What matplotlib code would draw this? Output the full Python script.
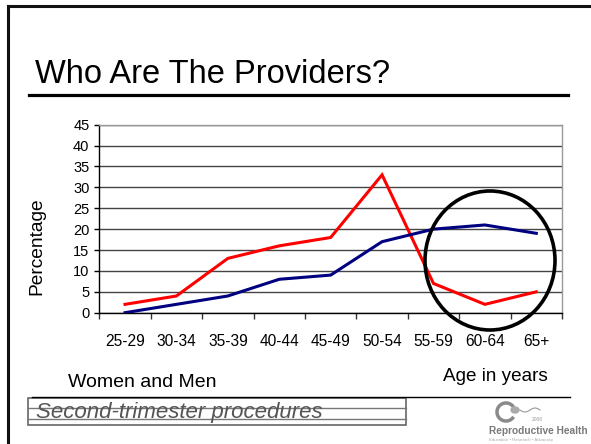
import matplotlib
matplotlib.use("Agg")
import matplotlib.pyplot as plt
from matplotlib.patches import Ellipse, Rectangle, Arc, Circle
from matplotlib.lines import Line2D
import numpy as np

plt.rcParams['font.family'] = ['Liberation Sans', 'DejaVu Sans']

categories = ["25-29", "30-34", "35-39", "40-44", "45-49", "50-54", "55-59", "60-64", "65+"]
women = [2, 4, 13, 16, 18, 33, 7, 2, 5]
men = [0, 2, 4, 8, 9, 17, 20, 21, 19]
yticks = [0, 5, 10, 15, 20, 25, 30, 35, 40, 45]

W, H = 591, 444
fig = plt.figure(figsize=(W / 100, H / 100), dpi=100)


def fx(x):
    return x / W


def fy(y):
    return 1 - y / H


# outer slide frame (left and top)
fig.add_artist(Line2D([fx(8), fx(8)], [fy(6), 0], transform=fig.transFigure, color='#111111', lw=2.2))
fig.add_artist(Line2D([fx(8), 1], [fy(6), fy(6)], transform=fig.transFigure, color='#111111', lw=2.2))

# title
fig.text(fx(35), fy(83), "Who Are The Providers?", fontsize=23.5, va='baseline', ha='left', color='black')
fig.add_artist(Line2D([fx(29), fx(568)], [fy(95), fy(95)], transform=fig.transFigure, color='black', lw=2.3))

# axes
x0, x1 = 99.3, 562
y0, y1 = 312.7, 124.7
ax = fig.add_axes([fx(x0), fy(y0), (x1 - x0) / W, (y0 - y1) / H])
xs = np.arange(len(categories))
ax.plot(xs, women, color='#ff0000', lw=2.2, solid_joinstyle='miter', zorder=3)
ax.plot(xs, men, color='#000080', lw=2.2, solid_joinstyle='miter', zorder=3)
ax.set_xlim(-0.5, len(categories) - 0.5)
ax.set_ylim(0, 45)
ax.set_yticks(yticks)
ax.set_yticklabels([str(v) for v in yticks], fontsize=10.5)
ax.set_xticks(xs)
ax.set_xticklabels(categories, fontsize=11.2)
ax.set_xticks(np.arange(-0.5, len(categories)), minor=True)
ax.tick_params(axis='x', which='major', length=0, pad=15.5)
ax.tick_params(axis='x', which='minor', length=4.5, width=1, color='#333333', direction='out')
ax.tick_params(axis='y', which='major', length=3.6, width=1, color='black', pad=3.5, direction='out')
ax.yaxis.grid(True, color='#444444', lw=1)
ax.set_axisbelow(True)
for s in ['top', 'right']:
    ax.spines[s].set_color('#999999')
    ax.spines[s].set_linewidth(1)
ax.spines['left'].set_color('black')
ax.spines['bottom'].set_color('black')
ax.spines['left'].set_linewidth(1)
ax.spines['bottom'].set_linewidth(1)

fig.text(fx(37), fy(246), "Percentage", rotation=90, fontsize=13.8, ha='center', va='center')

# highlight ellipse
fig.add_artist(Ellipse((fx(490), fy(260.5)), 130 / W, 139 / H, transform=fig.transFigure,
                       fill=False, edgecolor='black', lw=2.6, zorder=5))

# bottom texts
fig.text(fx(68), fy(387), "Women and Men", fontsize=14, va='baseline', ha='left')
fig.text(fx(443), fy(381), "Age in years", fontsize=13.6, va='baseline', ha='left')
fig.add_artist(Line2D([fx(32), fx(570)], [fy(397), fy(397)], transform=fig.transFigure, color='black', lw=1))

# caption box
fig.add_artist(Rectangle((fx(28), fy(425)), (406 - 28) / W, (425 - 398) / H, transform=fig.transFigure,
                         fill=False, edgecolor='#666666', lw=1.2))
for yy in (408, 419):
    fig.add_artist(Line2D([fx(28), fx(406)], [fy(yy), fy(yy)], transform=fig.transFigure, color='#777777', lw=1))
fig.text(fx(36), fy(418), "Second-trimester procedures", fontsize=16, style='italic', color='#555555',
         va='baseline', ha='left')

# logo
fig.add_artist(Arc((fx(506), fy(412)), 18 / W, 18 / H, theta1=40, theta2=320, transform=fig.transFigure,
                   color='#8a8a8a', lw=2.5))
fig.add_artist(Circle((fx(515), fy(410)), 4 / W, transform=fig.transFigure, color='#aaaaaa'))
tx = np.linspace(520, 540, 30)
fig.add_artist(Line2D(fx(tx), fy(410 + 2 * np.sin((tx - 520) / 20 * 2 * np.pi)), transform=fig.transFigure,
                      color='#999999', lw=0.8))
fig.text(fx(532), fy(421), "2008", fontsize=3.5, color='#999999', va='baseline', ha='left')
fig.text(fx(489), fy(434), "Reproductive Health", fontsize=7.3, weight='bold', color='#7a7a7a',
         va='baseline', ha='left')
fig.text(fx(489), fy(441), "Education \u2022 Research \u2022 Advocacy", fontsize=3.2, color='#aaaaaa',
         va='baseline', ha='left')

fig.savefig("out.png", dpi=100)
